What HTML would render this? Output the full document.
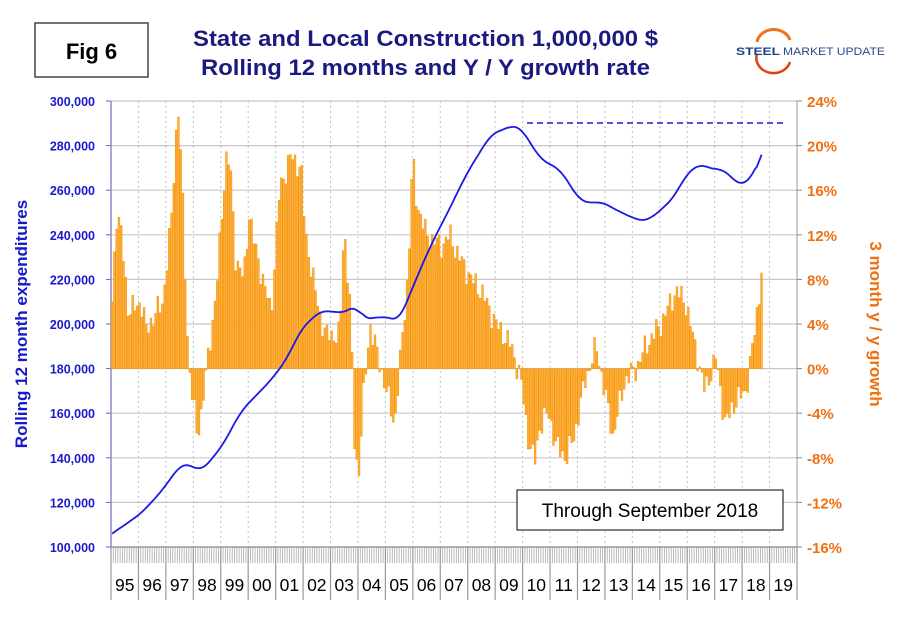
<!DOCTYPE html>
<html><head><meta charset="utf-8"><style>
html,body{margin:0;padding:0;background:#fff;}
svg text{font-family:"Liberation Sans",Arial,sans-serif;}
</style></head><body>
<svg id="s" width="897" height="620" xmlns="http://www.w3.org/2000/svg">
<rect x="0" y="0" width="897" height="620" fill="#fff"/>
<rect x="35" y="23" width="113" height="54" fill="#fff" stroke="#444" stroke-width="1.5"/>
<text x="91.5" y="59" font-size="22" font-weight="bold" text-anchor="middle" fill="#000">Fig 6</text>
<text x="193" y="46" font-size="22" font-weight="bold" textLength="465" lengthAdjust="spacingAndGlyphs" fill="#1a1a80">State and Local Construction 1,000,000 $</text>
<text x="201" y="75" font-size="22" font-weight="bold" textLength="449" lengthAdjust="spacingAndGlyphs" fill="#1a1a80">Rolling 12 months and Y / Y growth rate</text>
<path d="M 757 42 A 17 15 0 0 1 790 40" fill="none" stroke="#f07020" stroke-width="3"/>
<path d="M 757 54 A 17 15 0 0 0 790 62" fill="none" stroke="#e04010" stroke-width="2.5"/>
<text x="736" y="55" font-size="11" font-weight="bold" fill="#1f3f8a" textLength="44" lengthAdjust="spacingAndGlyphs">STEEL</text>
<text x="783" y="55" font-size="11" fill="#2a4a8a" textLength="102" lengthAdjust="spacingAndGlyphs">MARKET UPDATE</text>
<g id="grid"></g>
<g id="bars"></g>
<g id="line"></g>
<line x1="527" y1="123" x2="783" y2="123" stroke="#1a1acc" stroke-width="1.5" stroke-dasharray="6,4"/>
<rect x="517" y="490" width="266" height="40" fill="#fff" stroke="#000" stroke-width="1"/>
<text x="650" y="517" font-size="19" text-anchor="middle" fill="#000">Through September 2018</text>
<text transform="translate(27,324) rotate(-90)" font-size="17" font-weight="bold" text-anchor="middle" fill="#1a1acc">Rolling 12 month expenditures</text>
<text transform="translate(870,324) rotate(90)" font-size="17" font-weight="bold" text-anchor="middle" fill="#f07010">3 month y / y growth</text>
</svg>
<script>
var NS="http://www.w3.org/2000/svg";
function el(p,t,a,txt){var e=document.createElementNS(NS,t);for(var k in a)e.setAttribute(k,a[k]);if(txt!==undefined)e.textContent=txt;document.getElementById(p).appendChild(e);return e;}
var x0=111,x1=797,yT=101,yB=547,step=44.6,yr=(x1-x0)/25;
function X(y){return x0+(y-1995)*yr;}
for(var i=0;i<=10;i++){var y=yT+i*step;
 if(i<10) el("grid","line",{x1:x0,x2:x1,y1:y,y2:y,stroke:"#c8c8c8","stroke-width":1.2});
 el("grid","line",{x1:x0-5,x2:x0,y1:y,y2:y,stroke:"#6666bb"});
 el("grid","line",{x1:x1,x2:x1+5,y1:y,y2:y,stroke:"#888"});
 var v=300000-i*20000;el("grid","text",{x:95,y:y+5,"font-size":12.5,"font-weight":"bold","text-anchor":"end",fill:"#1a1acc"},v.toLocaleString("en-US"));
 var p=24-i*4;el("grid","text",{x:807,y:y+6,"font-size":15,"font-weight":"bold",fill:"#f07010"},p+"%");}
for(var k=0;k<=25;k++){var x=X(1995+k);
 if(k>0&&k<25) el("grid","line",{x1:x,x2:x,y1:yT,y2:yB,stroke:"#c0c0c0","stroke-dasharray":"2,3"});
 el("grid","line",{x1:x,x2:x,y1:yB,y2:600,stroke:"#999","stroke-width":1.2});
 if(k<25){var lab=String((95+k)%100).padStart(2,"0");el("grid","text",{x:x+yr/2,y:591,"font-size":17.5,"text-anchor":"middle",fill:"#000"},lab);
  for(var m=1;m<12;m++){var xm=x+m*yr/12;el("grid","line",{x1:xm,x2:xm,y1:yB,y2:563,stroke:"#aaa","stroke-width":0.8});}}}
el("grid","line",{x1:x0,x2:x1,y1:yB,y2:yB,stroke:"#888","stroke-width":1.2});
el("grid","line",{x1:x0,x2:x0,y1:yT,y2:yB,stroke:"#8888cc","stroke-width":1.5});
el("grid","line",{x1:x1,x2:x1,y1:yT,y2:yB,stroke:"#999","stroke-width":1});
function interp(pts,t){if(t<=pts[0][0])return pts[0][1];for(var i=1;i<pts.length;i++){if(t<=pts[i][0]){var a=pts[i-1],b=pts[i];return a[1]+(b[1]-a[1])*(t-a[0])/(b[0]-a[0]);}}return pts[pts.length-1][1];}
var B=[[1995.0,6],[1995.15,13.8],[1995.35,12],[1995.6,5],[1996.05,6],[1996.25,3.5],[1996.6,5],[1996.85,6],[1997.15,13],[1997.4,24],[1997.55,17],[1997.75,3],[1997.85,-1],[1998.1,-6],[1998.25,-4],[1998.5,1],[1998.8,7],[1999.15,19],[1999.3,18.5],[1999.5,10],[1999.8,8],[2000.0,14],[2000.2,11],[2000.4,9],[2000.8,5],[2001.1,16],[2001.5,19],[2001.9,18],[2002.05,12],[2002.55,5],[2002.8,3],[2003.3,3],[2003.45,13],[2003.7,5],[2003.85,-8],[2004.0,-9],[2004.15,-3],[2004.4,4],[2004.8,0],[2005.3,-5],[2005.55,2],[2005.8,9],[2005.95,19],[2006.1,15],[2006.45,12],[2007.0,11],[2007.3,12],[2007.65,10],[2008.1,8],[2008.45,7],[2009.0,4],[2009.55,2],[2009.9,-1],[2010.15,-6],[2010.4,-8.5],[2010.6,-5],[2010.9,-4],[2011.2,-7],[2011.55,-8],[2011.85,-6],[2012.25,-1],[2012.65,2],[2012.8,0],[2013.25,-6],[2013.7,-1],[2014.1,0],[2014.45,2],[2015.0,4],[2015.55,7],[2015.9,6],[2016.25,2],[2016.6,-2],[2017.0,1],[2017.35,-5],[2017.7,-3],[2018.1,-2],[2018.35,2],[2018.65,8],[2018.7,10.5]];
var y0=yT+6*step,bw=yr/12;
for(var n=0;n<285;n++){var t=1995+n/12;var v=interp(B,t)+Math.sin(n*2.3)*0.8+Math.sin(n*5.1)*0.5;
 var h=v*step/4;var x=x0+n*bw;
 el("bars","rect",{x:x+0.2,y:h>0?y0-h:y0,width:bw-0.5,height:Math.abs(h),fill:"#ffb040",stroke:"#f29000","stroke-width":0.5});}
var L=[[1995,106],[1996.05,115],[1996.8,125],[1997.5,137],[1997.8,137],[1998.25,134],[1999,145],[1999.7,161],[2000.8,175],[2001.35,184],[2001.9,198],[2002.6,206],[2003.5,205],[2003.9,209],[2004.15,202],[2004.6,203],[2005.15,203],[2005.45,201],[2005.9,215],[2006.6,235],[2007.35,253],[2007.9,267],[2008.8,285],[2009.6,289],[2009.9,288],[2010.6,274],[2011.35,269],[2012.0,256],[2012.4,254],[2012.8,255],[2013.55,250],[2014.1,247],[2014.45,246],[2015.0,251],[2015.55,258],[2015.9,267],[2016.45,272],[2016.9,269],[2017.2,270],[2017.9,262],[2018.1,263],[2018.45,269],[2018.7,277]];
var pts=[];for(var n=0;n<285;n++){var t=1995+n/12;pts.push(interp(L,t));}
var sm=[];for(var n=0;n<285;n++){var s=0,c=0;for(var j=-3;j<=3;j++){var q=n+j;if(q>=0&&q<285){s+=pts[q];c++;}}sm.push(s/c);}
var d="";for(var n=0;n<285;n++){var v=(n<3||n>281)?pts[n]:sm[n];var x=x0+n*bw+bw/2;var y=yT+(300-v)/20*step;d+=(n?"L":"M")+x.toFixed(1)+" "+y.toFixed(1);}
el("line","path",{d:d,fill:"none",stroke:"#1a1ae6","stroke-width":1.8});
</script>
</body></html>
